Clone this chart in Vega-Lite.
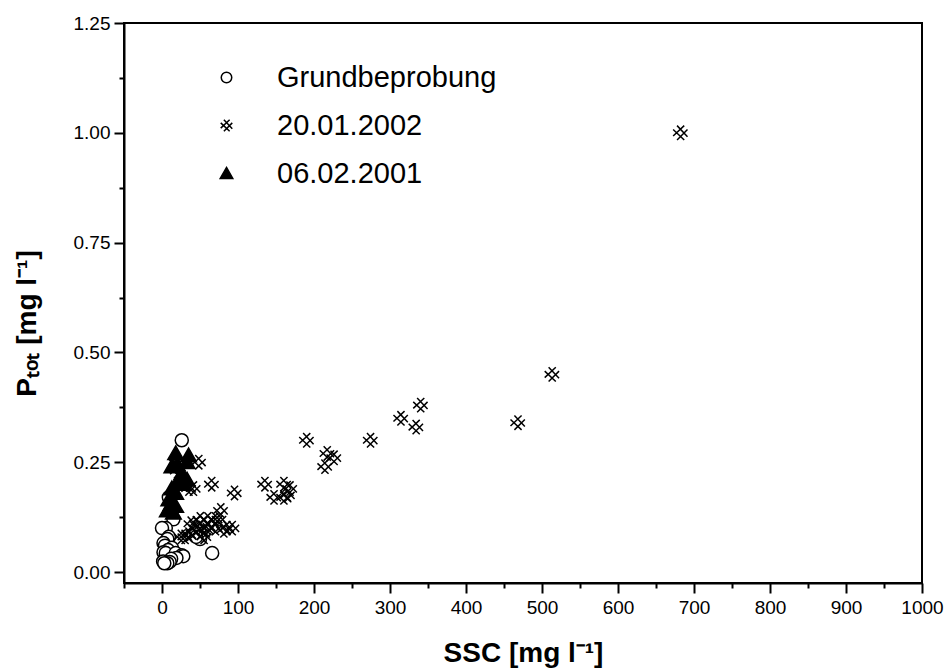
{
  "$schema": "https://vega.github.io/schema/vega-lite/v6.json",
  "autosize": "none",
  "width": 798,
  "height": 560,
  "padding": {"left": 124, "top": 23, "right": 30, "bottom": 88},
  "background": "white",
  "config": {
    "view": {"stroke": "black", "strokeWidth": 2},
    "font": "Liberation Sans",
    "axis": {"grid": false, "labelFlush": false, "domainColor": "black", "domainWidth": 2, "tickColor": "black", "tickWidth": 2, "labelColor": "black", "titleColor": "black", "labelFont": "Liberation Sans", "titleFont": "Liberation Sans", "labelFontSize": 19, "titleFontSize": 28, "titleFontWeight": "bold"},
    "legend": {"labelFontSize": 29, "labelLimit": 400}
  },
  "datasets": {
    "pts": [
      {"series": "Grundbeprobung", "ssc": 26, "p": 0.30},
      {"series": "Grundbeprobung", "ssc": 9, "p": 0.17},
      {"series": "Grundbeprobung", "ssc": 15, "p": 0.12},
      {"series": "Grundbeprobung", "ssc": 5, "p": 0.10},
      {"series": "Grundbeprobung", "ssc": 0, "p": 0.10},
      {"series": "Grundbeprobung", "ssc": 9, "p": 0.08},
      {"series": "Grundbeprobung", "ssc": 7, "p": 0.075},
      {"series": "Grundbeprobung", "ssc": 2, "p": 0.066},
      {"series": "Grundbeprobung", "ssc": 4, "p": 0.06},
      {"series": "Grundbeprobung", "ssc": 13, "p": 0.055},
      {"series": "Grundbeprobung", "ssc": 8, "p": 0.05},
      {"series": "Grundbeprobung", "ssc": 2, "p": 0.045},
      {"series": "Grundbeprobung", "ssc": 5, "p": 0.043},
      {"series": "Grundbeprobung", "ssc": 18, "p": 0.043},
      {"series": "Grundbeprobung", "ssc": 26, "p": 0.038},
      {"series": "Grundbeprobung", "ssc": 28, "p": 0.036},
      {"series": "Grundbeprobung", "ssc": 19, "p": 0.032},
      {"series": "Grundbeprobung", "ssc": 12, "p": 0.03},
      {"series": "Grundbeprobung", "ssc": 1.5, "p": 0.024},
      {"series": "Grundbeprobung", "ssc": 10, "p": 0.023},
      {"series": "Grundbeprobung", "ssc": 7, "p": 0.02},
      {"series": "Grundbeprobung", "ssc": 3, "p": 0.02},
      {"series": "Grundbeprobung", "ssc": 66, "p": 0.043},
      {"series": "Grundbeprobung", "ssc": 50, "p": 0.075},
      {"series": "Grundbeprobung", "ssc": 45, "p": 0.08},
      {"series": "20.01.2002", "ssc": 682, "p": 1.00},
      {"series": "20.01.2002", "ssc": 513, "p": 0.45},
      {"series": "20.01.2002", "ssc": 468, "p": 0.34},
      {"series": "20.01.2002", "ssc": 340, "p": 0.38},
      {"series": "20.01.2002", "ssc": 314, "p": 0.35},
      {"series": "20.01.2002", "ssc": 334, "p": 0.33},
      {"series": "20.01.2002", "ssc": 274, "p": 0.30},
      {"series": "20.01.2002", "ssc": 190, "p": 0.30},
      {"series": "20.01.2002", "ssc": 217, "p": 0.27},
      {"series": "20.01.2002", "ssc": 226, "p": 0.26},
      {"series": "20.01.2002", "ssc": 214, "p": 0.24},
      {"series": "20.01.2002", "ssc": 135, "p": 0.20},
      {"series": "20.01.2002", "ssc": 147, "p": 0.17},
      {"series": "20.01.2002", "ssc": 160, "p": 0.20},
      {"series": "20.01.2002", "ssc": 168, "p": 0.19},
      {"series": "20.01.2002", "ssc": 160, "p": 0.17},
      {"series": "20.01.2002", "ssc": 165, "p": 0.175},
      {"series": "20.01.2002", "ssc": 95, "p": 0.18},
      {"series": "20.01.2002", "ssc": 65, "p": 0.20},
      {"series": "20.01.2002", "ssc": 48, "p": 0.25},
      {"series": "20.01.2002", "ssc": 41, "p": 0.19},
      {"series": "20.01.2002", "ssc": 35, "p": 0.19},
      {"series": "20.01.2002", "ssc": 18, "p": 0.25},
      {"series": "20.01.2002", "ssc": 20, "p": 0.23},
      {"series": "20.01.2002", "ssc": 77, "p": 0.14},
      {"series": "20.01.2002", "ssc": 92, "p": 0.10},
      {"series": "20.01.2002", "ssc": 81, "p": 0.095},
      {"series": "20.01.2002", "ssc": 70, "p": 0.12},
      {"series": "20.01.2002", "ssc": 60, "p": 0.12},
      {"series": "20.01.2002", "ssc": 55, "p": 0.11},
      {"series": "20.01.2002", "ssc": 50, "p": 0.12},
      {"series": "20.01.2002", "ssc": 45, "p": 0.10},
      {"series": "20.01.2002", "ssc": 40, "p": 0.09},
      {"series": "20.01.2002", "ssc": 35, "p": 0.085},
      {"series": "20.01.2002", "ssc": 30, "p": 0.08},
      {"series": "20.01.2002", "ssc": 50, "p": 0.09},
      {"series": "20.01.2002", "ssc": 60, "p": 0.10},
      {"series": "20.01.2002", "ssc": 65, "p": 0.11},
      {"series": "20.01.2002", "ssc": 70, "p": 0.10},
      {"series": "20.01.2002", "ssc": 55, "p": 0.08},
      {"series": "20.01.2002", "ssc": 45, "p": 0.11},
      {"series": "20.01.2002", "ssc": 75, "p": 0.12},
      {"series": "20.01.2002", "ssc": 85, "p": 0.10},
      {"series": "20.01.2002", "ssc": 58, "p": 0.095},
      {"series": "20.01.2002", "ssc": 38, "p": 0.11},
      {"series": "20.01.2002", "ssc": 25, "p": 0.08},
      {"series": "06.02.2001", "ssc": 18, "p": 0.27},
      {"series": "06.02.2001", "ssc": 35, "p": 0.265},
      {"series": "06.02.2001", "ssc": 33, "p": 0.25},
      {"series": "06.02.2001", "ssc": 13, "p": 0.24},
      {"series": "06.02.2001", "ssc": 20, "p": 0.245},
      {"series": "06.02.2001", "ssc": 26, "p": 0.225},
      {"series": "06.02.2001", "ssc": 22, "p": 0.21},
      {"series": "06.02.2001", "ssc": 33, "p": 0.21},
      {"series": "06.02.2001", "ssc": 28, "p": 0.20},
      {"series": "06.02.2001", "ssc": 20, "p": 0.20},
      {"series": "06.02.2001", "ssc": 13, "p": 0.19},
      {"series": "06.02.2001", "ssc": 18, "p": 0.18},
      {"series": "06.02.2001", "ssc": 9, "p": 0.165},
      {"series": "06.02.2001", "ssc": 12, "p": 0.155},
      {"series": "06.02.2001", "ssc": 18, "p": 0.15},
      {"series": "06.02.2001", "ssc": 11, "p": 0.145},
      {"series": "06.02.2001", "ssc": 7, "p": 0.14},
      {"series": "06.02.2001", "ssc": 15, "p": 0.135}
    ]
  },
  "data": {"name": "pts"},
  "layer": [
    {
      "mark": {"type": "point", "opacity": 0},
      "encoding": {
        "x": {"field": "ssc", "type": "quantitative", "scale": {"domain": [-50, 1000], "nice": false, "zero": false},
          "axis": {"orient": "bottom", "values": [-50, 50, 150, 250, 350, 450, 550, 650, 750, 850, 950], "labels": false, "domain": false, "tickSize": 5, "title": null}},
        "y": {"field": "p", "type": "quantitative", "scale": {"domain": [-0.025, 1.25], "nice": false, "zero": false},
          "axis": {"orient": "left", "values": [0.125, 0.375, 0.625, 0.875, 1.125], "labels": false, "domain": false, "tickSize": 5, "title": null}}
      }
    },
    {
      "mark": {"type": "point", "stroke": "black", "strokeWidth": 1.5, "opacity": 1, "size": 170},
      "encoding": {
        "x": {"field": "ssc", "type": "quantitative", "scale": {"domain": [-50, 1000], "nice": false, "zero": false},
          "axis": {"orient": "bottom", "values": [0, 100, 200, 300, 400, 500, 600, 700, 800, 900, 1000], "format": "d", "labelFlush": false, "labelFontSize": 19, "titleFontSize": 28, "tickSize": 10, "labelPadding": 5, "title": "SSC [mg l⁻¹]", "titlePadding": 22}},
        "y": {"field": "p", "type": "quantitative", "scale": {"domain": [-0.025, 1.25], "nice": false, "zero": false},
          "axis": {"orient": "left", "values": [0, 0.25, 0.5, 0.75, 1, 1.25], "format": ".2f", "labelFlush": false, "labelFontSize": 19, "titleFontSize": 28, "tickSize": 10, "labelPadding": 4, "title": "Pₜₒₜ [mg l⁻¹]", "titlePadding": 32, "titleY": 300}},
        "shape": {"field": "series", "type": "nominal", "sort": null,
          "scale": {"domain": ["Grundbeprobung", "20.01.2002", "06.02.2001"], "range": ["circle", "M-1.1,-0.5L0.6,1.1M-0.5,-1.1L1.1,0.6M1.1,-0.5L-0.5,1.1M0.6,-1.1L-1.1,0.5", "M0,-1.15L1.2,0.95L-1.2,0.95Z"]},
          "legend": {"title": null, "orient": "none", "legendX": 88, "legendY": 40, "symbolSize": 110, "symbolStrokeWidth": 1.5, "labelFontSize": 29, "labelLimit": 400, "labelFont": "Liberation Sans", "labelColor": "black", "labelOffset": 36, "rowPadding": 18, "padding": 0}},
        "fill": {"field": "series", "type": "nominal", "sort": null,
          "scale": {"domain": ["Grundbeprobung", "20.01.2002", "06.02.2001"], "range": ["white", "transparent", "black"]}}
      }
    }
  ],
  "resolve": {"axis": {"x": "independent", "y": "independent"}}
}
